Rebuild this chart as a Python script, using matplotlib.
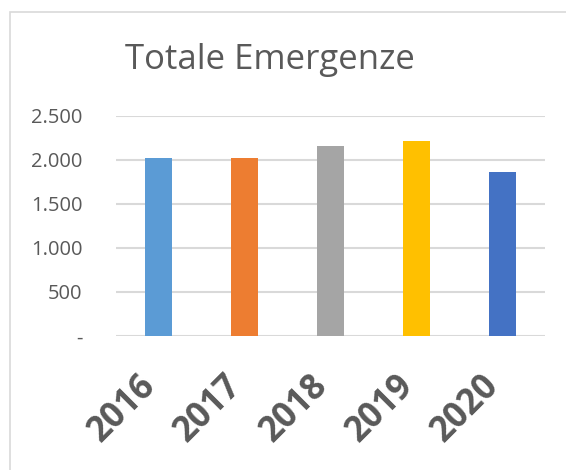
import matplotlib
matplotlib.use("Agg")
from matplotlib import pyplot as plt
from matplotlib.patches import Rectangle
from matplotlib.ticker import FuncFormatter
from matplotlib.transforms import ScaledTranslation

plt.rcParams['font.family'] = ['Open Sans', 'DejaVu Sans']

### 数据
anni = ['2016', '2017', '2018', '2019', '2020']
emergenze = [2023, 2023, 2159, 2216, 1864]
colori = ['#5B9BD5', '#ED7D31', '#A5A5A5', '#FFC000', '#4472C4']
y_ticks = [0, 500, 1000, 1500, 2000, 2500]

def fmt_migliaia(v, pos):
    if v == 0:
        return '-'
    return f"{int(v):,}".replace(',', '.')

fig = plt.figure(figsize=(5.66, 4.70), dpi=100)
# cornice del grafico (esce dal bordo a destra e in basso)
fig.patches.append(Rectangle((10 / 566, -0.1), 1.2, 1.1 - 12 / 470, transform=fig.transFigure,
                             fill=False, edgecolor='#d9d9d9', linewidth=1.2))

ax = fig.add_axes([116 / 566, 1 - 336 / 470, (545 - 116) / 566, (336 - 115.7) / 470])
x = range(len(anni))
ax.bar(x, emergenze, width=0.315, color=colori, zorder=3)

ax.set_ylim(0, 2500)
ax.set_xlim(-0.5, len(anni) - 0.5)
ax.set_yticks(y_ticks)
ax.yaxis.set_major_formatter(FuncFormatter(fmt_migliaia))
ax.grid(axis='y', color='#d9d9d9', linewidth=1.5, zorder=0)
for s in ax.spines.values():
    s.set_visible(False)
ax.tick_params(axis='both', length=0)
ax.tick_params(axis='y', labelsize=14.5, labelcolor='#595959', pad=24)

ax.set_xticks(list(x))
ax.set_xticklabels(anni, rotation=45, ha='right', rotation_mode='anchor',
                   fontsize=25, fontweight='bold', color='#595959')
ax.tick_params(axis='x', pad=23)
# sposta le etichette un po' a sinistra
sposta = ScaledTranslation(-21 / 100, 0, fig.dpi_scale_trans)
for lab in ax.get_xticklabels():
    lab.set_transform(lab.get_transform() + sposta)

fig.text(270 / 566, 1 - 60 / 470, 'Totale Emergenze', ha='center', va='center',
         fontsize=25, color='#595959')

fig.savefig('out.png', dpi=100)
